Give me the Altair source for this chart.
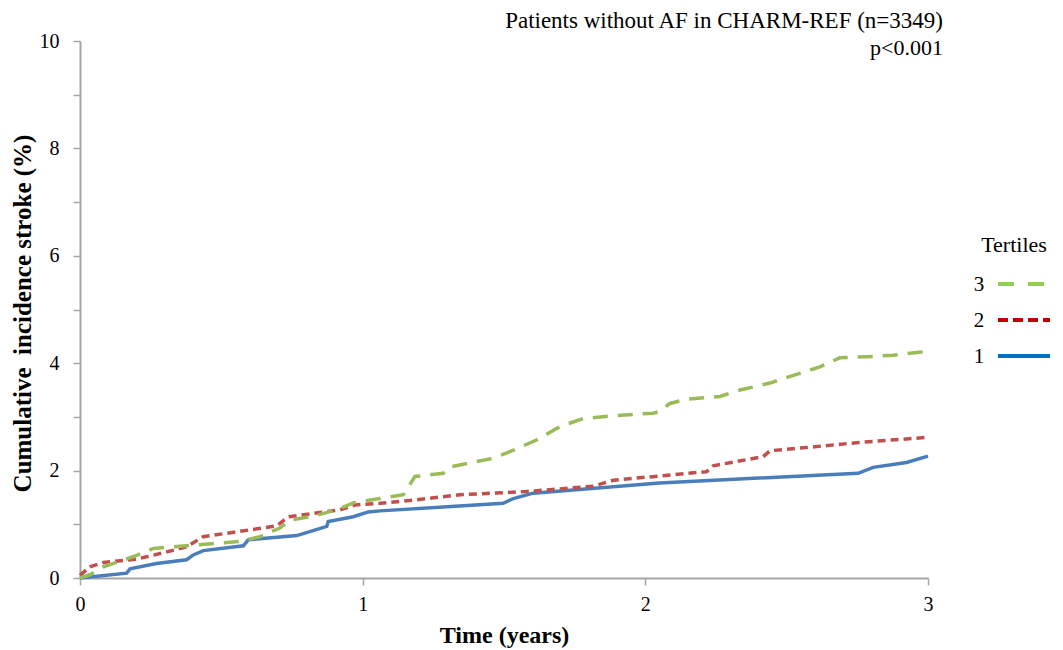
import altair as alt
import pandas as pd

# Tertile 1 (blue, solid)
t1_x = [0.0, 0.165, 0.177, 0.271, 0.377, 0.401, 0.436, 0.578, 0.595, 0.767, 0.873, 0.878, 0.967, 1.020,
        1.061, 1.497, 1.533, 1.603, 2.05, 2.753, 2.806, 2.924, 3.0]
t1_y = [0.0, 0.09, 0.17, 0.27, 0.34, 0.43, 0.51, 0.60, 0.71, 0.79, 0.96, 1.05, 1.14, 1.23,
        1.25, 1.39, 1.48, 1.58, 1.77, 1.95, 2.06, 2.15, 2.27]

# Tertile 2 (red, short dash)
t2_x = [0.0, 0.035, 0.083, 0.2, 0.295, 0.377, 0.436, 0.554, 0.696, 0.737, 0.849, 0.92, 0.973, 1.061,
        1.179, 1.344, 1.58, 1.816, 1.887, 2.05, 2.217, 2.24, 2.417, 2.441, 2.57, 2.747, 3.0]
t2_y = [0.05, 0.21, 0.29, 0.35, 0.47, 0.58, 0.77, 0.86, 0.97, 1.14, 1.22, 1.27, 1.36, 1.39,
        1.45, 1.55, 1.61, 1.71, 1.82, 1.90, 1.98, 2.09, 2.26, 2.37, 2.43, 2.52, 2.62]

# Tertile 3 (green, long dash)
t3_x = [0.0, 0.035, 0.083, 0.19, 0.26, 0.40, 0.566, 0.637, 0.707, 0.743, 0.825, 0.908, 0.967, 1.061,
        1.144, 1.185, 1.285, 1.303, 1.462, 1.533, 1.615, 1.698, 1.78, 1.887, 2.028, 2.05, 2.087,
        2.146, 2.264, 2.335, 2.441, 2.51, 2.617, 2.688, 2.783, 2.877, 2.977, 3.0]
t3_y = [0.0, 0.06, 0.21, 0.40, 0.55, 0.61, 0.68, 0.77, 0.93, 1.08, 1.15, 1.27, 1.40, 1.48,
        1.55, 1.89, 1.95, 2.06, 2.23, 2.38, 2.57, 2.82, 2.97, 3.02, 3.07, 3.10, 3.25,
        3.33, 3.38, 3.50, 3.63, 3.75, 3.93, 4.10, 4.12, 4.15, 4.21, 4.22]

x_ticks = [0, 0.5, 1, 1.5, 2, 2.5, 3]
y_ticks = [0, 1, 2, 3, 4, 5, 6, 7, 8, 9, 10]

legend_labels = ["3", "2", "1"]
title_lines = ["Patients without AF in CHARM-REF (n=3349)", "p<0.001"]

FONT = "Times New Roman, Liberation Serif, serif"
AXIS_COLOR = "#a6a6a6"

def series_df(xs, ys):
    return pd.DataFrame({"t": xs, "v": ys})

x_enc = alt.X("t:Q", scale=alt.Scale(domain=[0, 3], nice=False),
              axis=alt.Axis(values=x_ticks, format="d",
                            labelExpr="datum.value % 1 == 0 ? datum.label : ''",
                            title="Time (years)", grid=False, tickSize=7, labelPadding=9,
                            labelFlush=False, titleFontSize=24, titleY=57, titleBaseline="middle"))
y_enc = alt.Y("v:Q", scale=alt.Scale(domain=[0, 10], nice=False),
              axis=alt.Axis(values=y_ticks, format="d",
                            labelExpr="datum.value % 2 == 0 ? datum.label : ''",
                            title="Cumulative\u00a0\u00a0incidence\u00a0stroke\u00a0(%)", grid=False,
                            tickSize=7, labelPadding=14, labelFlush=False, titleFontSize=25,
                            titleX=-58, titleY=272, titleAngle=-90, titleBaseline="middle",
                            titleAlign="center"))

blue = alt.Chart(series_df(t1_x, t1_y)).mark_line(color="#4a7ebb", strokeWidth=3.5).encode(x=x_enc, y=y_enc)
red = alt.Chart(series_df(t2_x, t2_y)).mark_line(color="#c0504d", strokeWidth=3.5,
                                                 strokeDash=[8, 5]).encode(x="t:Q", y="v:Q")
green = alt.Chart(series_df(t3_x, t3_y)).mark_line(color="#9bbb59", strokeWidth=3.5,
                                                   strokeDash=[15, 10]).encode(x="t:Q", y="v:Q")

one = pd.DataFrame({"a": [0]})

title1 = alt.Chart(one).mark_text(text=title_lines[0], font=FONT, fontSize=23, align="right",
                                  baseline="middle", color="#000").encode(x=alt.value(863), y=alt.value(-20))
title2 = alt.Chart(one).mark_text(text=title_lines[1], font=FONT, fontSize=22, align="right",
                                  baseline="middle", color="#000").encode(x=alt.value(863), y=alt.value(7))

leg_title = alt.Chart(one).mark_text(text="Tertiles", font=FONT, fontSize=22, align="center",
                                     baseline="middle", color="#000").encode(x=alt.value(934), y=alt.value(204))

leg_colors = ["#92d050", "#c00000", "#0070c0"]
leg_dash = [[16, 14], [10, 5], [1, 0]]
leg_y = [243, 279, 315]
legend_layers = []
for lab, col, dash, yy in zip(legend_labels, leg_colors, leg_dash, leg_y):
    legend_layers.append(alt.Chart(one).mark_text(text=lab, font=FONT, fontSize=21, align="center",
                                                  baseline="middle", color="#000")
                         .encode(x=alt.value(899), y=alt.value(yy + 1)))
    legend_layers.append(alt.Chart(one).mark_rule(color=col, strokeWidth=4, strokeDash=dash)
                         .encode(x=alt.value(918), x2=alt.value(970), y=alt.value(yy)))

chart = alt.layer(blue, red, green, title1, title2, leg_title, *legend_layers).properties(
    width=848, height=537,
    autosize=alt.AutoSizeParams(type="none"),
    padding={"left": 80, "top": 41, "right": 135, "bottom": 72},
).configure_view(stroke=None).configure_axis(
    domainColor=AXIS_COLOR, domainWidth=2, tickColor=AXIS_COLOR, tickWidth=1.5,
    labelFont=FONT, labelFontSize=20, labelColor="#000",
    titleFont=FONT, titleFontWeight="bold", titleColor="#000",
)

chart.save("out.html", embed_options={"renderer": "svg", "actions": False})
